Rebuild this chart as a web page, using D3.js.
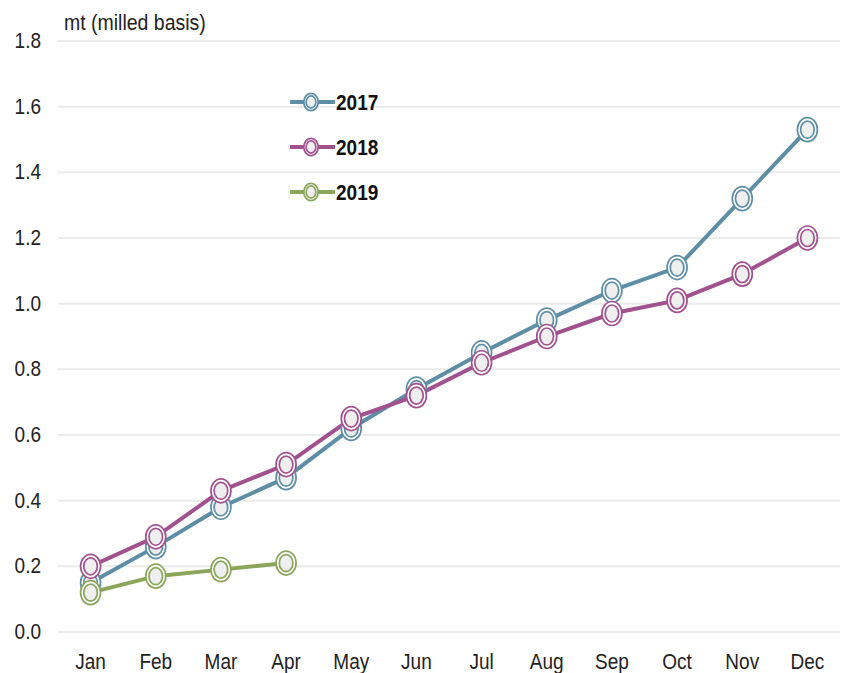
<!DOCTYPE html>
<html>
<head>
<meta charset="utf-8">
<script src="https://cdn.jsdelivr.net/npm/d3@7"></script>
<style>
  body { margin: 0; background: #fff; }
  text { font-family: "Liberation Sans", Arial, sans-serif; }
</style>
</head>
<body>
<div id="chart"></div>
<script>
// Data
var months = ["Jan", "Feb", "Mar", "Apr", "May", "Jun", "Jul", "Aug", "Sep", "Oct", "Nov", "Dec"];
var yTicks = [0.0, 0.2, 0.4, 0.6, 0.8, 1.0, 1.2, 1.4, 1.6, 1.8];
var years = ["2017", "2018", "2019"];
var v2017 = [0.15, 0.26, 0.38, 0.47, 0.62, 0.74, 0.85, 0.95, 1.04, 1.11, 1.32, 1.53];
var v2018 = [0.20, 0.29, 0.43, 0.51, 0.65, 0.72, 0.82, 0.90, 0.97, 1.01, 1.09, 1.20];
var v2019 = [0.12, 0.17, 0.19, 0.21];
var colors = ["#5e8ea6", "#a2518f", "#8ba65b"];

var totwidth = 848, totheight = 673,
	padLeft = 58, padRight = 840, padTop = 41, padBottom = 632;

var series = [v2017, v2018, v2019].map(function(vals, i) {
	return { name: years[i], color: colors[i],
		pts: vals.map(function(v, j) { return { m: months[j], v: v }; }) };
});

var svg = d3.select("#chart").append("svg")
	.attr("width", totwidth)
	.attr("height", totheight);

var x = d3.scalePoint().domain(months).range([padLeft, padRight]).padding(0.5);
var y = d3.scaleLinear().domain([0, 1.8]).range([padBottom, padTop]);

// Gridlines
svg.append("g").selectAll("line").data(yTicks).enter().append("line")
	.attr("x1", padLeft).attr("x2", padRight)
	.attr("y1", function(d) { return y(d); })
	.attr("y2", function(d) { return y(d); })
	.attr("stroke", "#ebebeb")
	.attr("stroke-width", 2);

// text stretched a bit taller, like the original
function tallText(g, px, py, str, anchor, size, weight) {
	return g.append("text")
		.attr("transform", "translate(" + px + "," + py + ") scale(1,1.15)")
		.attr("text-anchor", anchor)
		.attr("font-size", size)
		.attr("font-weight", weight || "normal")
		.attr("fill", "#222")
		.text(str);
}

// Y axis labels
var gy = svg.append("g");
yTicks.forEach(function(t) {
	tallText(gy, 41, y(t) + 7, d3.format(".1f")(t), "end", 19);
});

// X axis labels
var gx = svg.append("g");
months.forEach(function(m) {
	tallText(gx, x(m), 669, m, "middle", 19);
});

// Unit label
tallText(svg, 64, 30, "mt (milled basis)", "start", 19.5);

var line = d3.line()
	.x(function(d) { return x(d.m); })
	.y(function(d) { return y(d.v); });

// double-ring marker, slightly taller than wide
function marker(g, color, s) {
	g.append("ellipse").attr("rx", 10 * s).attr("ry", 12 * s).attr("fill", "#fff")
		.attr("stroke", color).attr("stroke-width", 1.7);
	g.append("ellipse").attr("rx", 6.8 * s).attr("ry", 8.5 * s).attr("fill", "#efefef")
		.attr("stroke", color).attr("stroke-width", 1.7);
}

// Lines and markers
series.forEach(function(s) {
	svg.append("path")
		.datum(s.pts)
		.attr("fill", "none")
		.attr("stroke", s.color)
		.attr("stroke-width", 4)
		.attr("d", line);
});
series.forEach(function(s) {
	svg.append("g").selectAll("g").data(s.pts).enter().append("g")
		.attr("transform", function(d) { return "translate(" + x(d.m) + "," + y(d.v) + ")"; })
		.each(function() { marker(d3.select(this), s.color, 1); });
});

// Legend
var legend = svg.append("g").selectAll("g").data(series).enter().append("g")
	.attr("transform", function(d, i) { return "translate(290," + (102 + i * 45) + ")"; });
legend.append("line")
	.attr("x1", 0).attr("x2", 45)
	.attr("stroke", function(d) { return d.color; })
	.attr("stroke-width", 4);
legend.each(function(d) {
	var g = d3.select(this);
	var m = g.append("g").attr("transform", "translate(21,0)");
	marker(m, d.color, 0.72);
	tallText(g, 46, 7.5, d.name, "start", 19, "bold").attr("fill", "#111");
});
</script>
</body>
</html>
